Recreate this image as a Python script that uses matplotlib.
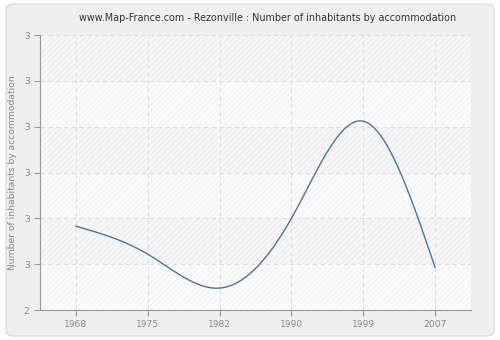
import numpy as np
import matplotlib
matplotlib.use('Agg')
import matplotlib.pyplot as plt
from matplotlib.patches import FancyBboxPatch, Rectangle

years = ['1968', '1975', '1982', '1990', '1999', '2007']
values = [2.366, 2.244, 2.096, 2.400, 2.824, 2.186]
y_ticks = [2.0, 2.2, 2.4, 2.6, 2.8, 3.0, 3.2]
y_labels = ['2', '3', '3', '3', '3', '3', '3']
title = 'www.Map-France.com - Rezonville : Number of inhabitants by accommodation'
y_title = 'Number of inhabitants by accommodation'


def natural_spline(x, y, xs):
    # natural cubic spline through the points
    x = np.asarray(x, float)
    y = np.asarray(y, float)
    n = len(x)
    h = np.diff(x)
    A = np.zeros((n, n))
    b = np.zeros(n)
    A[0, 0] = A[-1, -1] = 1
    for i in range(1, n - 1):
        A[i, i - 1] = h[i - 1]
        A[i, i] = 2 * (h[i - 1] + h[i])
        A[i, i + 1] = h[i]
        b[i] = 6 * ((y[i + 1] - y[i]) / h[i] - (y[i] - y[i - 1]) / h[i - 1])
    M = np.linalg.solve(A, b)
    idx = np.clip(np.searchsorted(x, xs) - 1, 0, n - 2)
    hi = h[idx]
    a = x[idx + 1] - xs
    c = xs - x[idx]
    return (M[idx] * a**3 / (6 * hi) + M[idx + 1] * c**3 / (6 * hi)
            + (y[idx] / hi - M[idx] * hi / 6) * a
            + (y[idx + 1] / hi - M[idx + 1] * hi / 6) * c)


plt.rcParams['hatch.linewidth'] = 0.5
fig = plt.figure(figsize=(5, 3.4), dpi=100)
fig.patch.set_facecolor('white')
fig.patches.append(FancyBboxPatch((0.012, 0.012), 0.976, 0.976,
                                  boxstyle='round,pad=0,rounding_size=0.015',
                                  transform=fig.transFigure, facecolor='#efefef',
                                  edgecolor='#dddddd', linewidth=1, zorder=-10))

ax = fig.add_axes([0.08, 0.088, 0.862, 0.809])
ax.set_zorder(1)
ax.set_facecolor('#fafafa')
pos = np.arange(len(years))
x0, x1 = -0.5, len(years) - 0.5
ax.set_xlim(x0, x1)
ax.set_ylim(y_ticks[0], y_ticks[-1])

# alternating bands with faint hatch
for i in range(len(y_ticks) - 1):
    fc, hc = ('#f7f7f7', '#e8e8e8') if i % 2 == 1 else ('#fbfbfb', '#f0f0f0')
    ax.add_patch(Rectangle((x0, y_ticks[i]), x1 - x0, y_ticks[i + 1] - y_ticks[i],
                           facecolor=fc, edgecolor=hc, hatch='//////',
                           linewidth=0, zorder=0))

xs = np.linspace(pos[0], pos[-1], 400)
ax.plot(xs, natural_spline(pos, values, xs), color='#4a74a8', linewidth=1, zorder=3)

ax.set_xticks(pos)
ax.set_xticklabels(years)
ax.set_yticks(y_ticks)
ax.set_yticklabels(y_labels)
ax.grid(True, color='#e0e0e0', linestyle=(0, (4, 3)), linewidth=0.8, zorder=1)

for s in ['top', 'right']:
    ax.spines[s].set_visible(False)
for s in ['left', 'bottom']:
    ax.spines[s].set_color('#999999')
ax.tick_params(colors='#999999', labelcolor='#888888', labelsize=6.6, length=4, width=0.8)

ax.set_ylabel(y_title, color='#888888', fontsize=6.6, labelpad=5)
fig.text(0.535, 0.947, title, ha='center', va='center', fontsize=6.9, color='#333333')

fig.savefig('out.png', dpi=100)
